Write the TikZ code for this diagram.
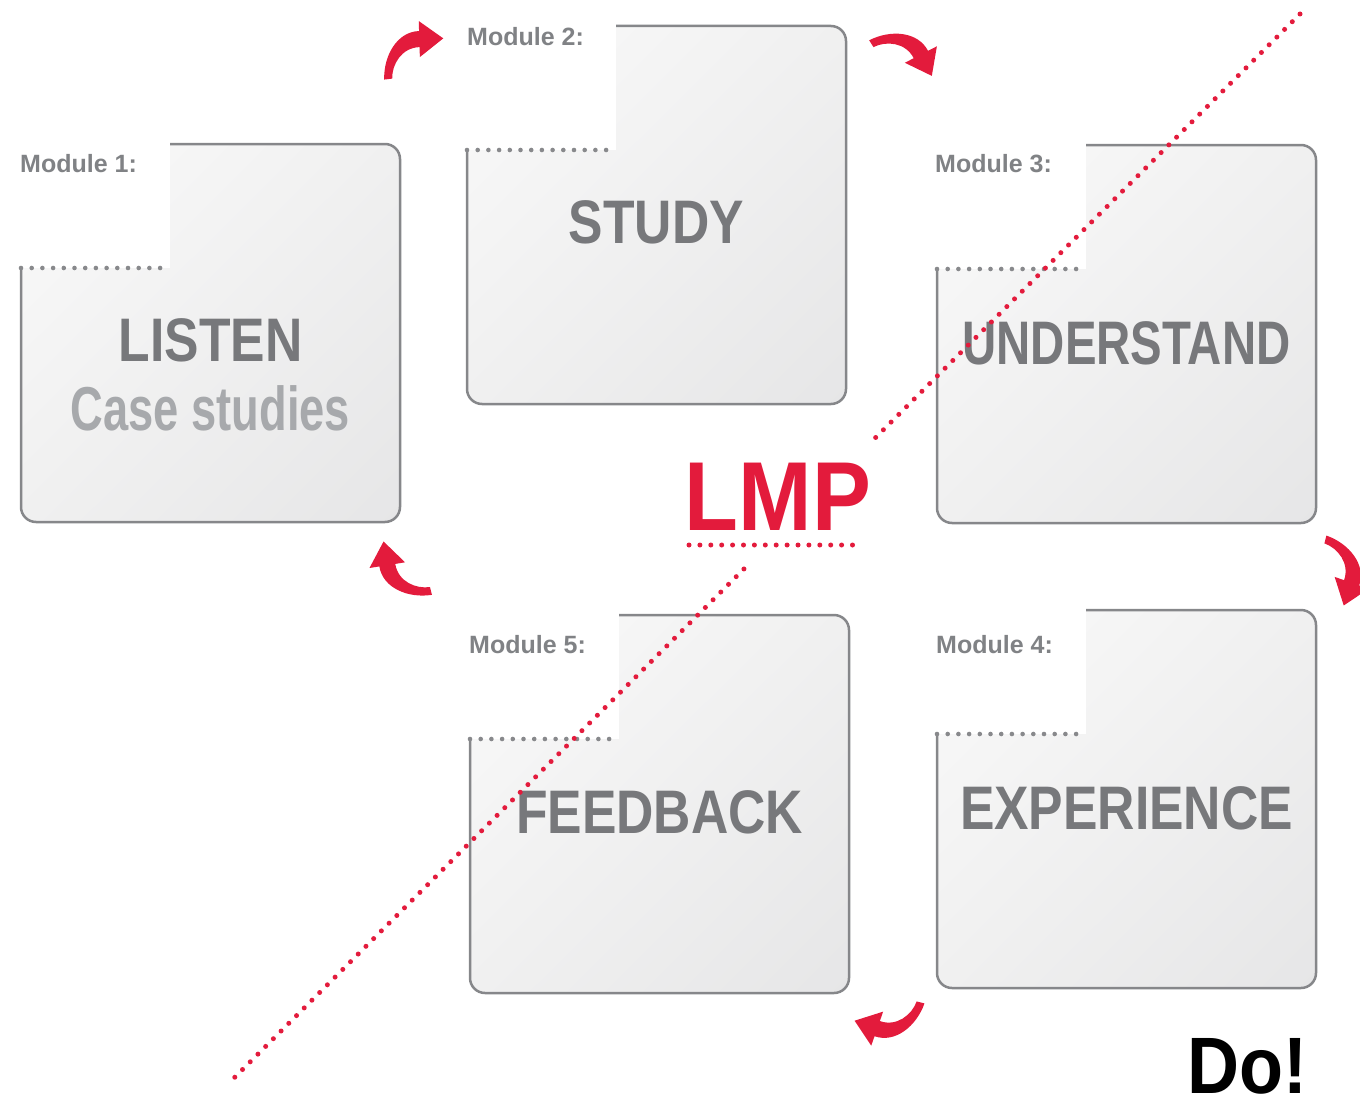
\documentclass[tikz,border=0pt]{standalone}
\usepackage{fontspec}
\setmainfont{Liberation Sans}
\newfontfamily\condfont{Liberation Sans}[FakeStretch=0.84]
\newfontfamily\narrfont{Liberation Sans}[FakeStretch=0.77]
\newfontfamily\subfont{Liberation Sans}[FakeStretch=0.73]
\newfontfamily\lmpfont{Liberation Sans}[FakeStretch=0.9]
\usetikzlibrary{positioning,shadings}

\definecolor{boxline}{HTML}{86878A}
\definecolor{tabgray}{HTML}{88898C}
\definecolor{boxlight}{HTML}{FAFAFA}
\definecolor{boxmid}{HTML}{F0F0F0}
\definecolor{boxdark}{HTML}{E6E6E7}
\definecolor{titlegray}{HTML}{77787B}
\definecolor{subgray}{HTML}{A7A9AC}
\definecolor{labelgray}{HTML}{808285}
\definecolor{lmpred}{HTML}{E31B3C}

\tikzstyle{modbox} = [rectangle, rounded corners=15pt, minimum width=379pt, minimum height=378pt, outer sep=0pt, draw=boxline, line width=2.5pt, shade, upper left=boxlight, upper right=boxmid, lower left=boxmid, lower right=boxdark]
\tikzstyle{tabdots} = [draw=tabgray, line width=4.6pt, line cap=round, dash pattern=on 0pt off 10.7pt]
\tikzstyle{reddots} = [draw=lmpred, line width=5pt, line cap=round, dash pattern=on 0pt off 10.9pt]
\tikzstyle{modlabel} = [anchor=west, inner sep=0pt, text=labelgray, font=\bfseries\fontsize{25}{30}\selectfont]
\tikzstyle{boxtitle} = [inner sep=0pt, text=titlegray, font=\condfont\bfseries\fontsize{61.5}{70}\selectfont]
\tikzstyle{boxwide} = [inner sep=0pt, text=titlegray, font=\narrfont\bfseries\fontsize{61.5}{70}\selectfont]
\tikzstyle{boxsub} = [inner sep=0pt, text=subgray, font=\subfont\bfseries\fontsize{62}{70}\selectfont]
\tikzstyle{lmptext} = [inner sep=0pt, text=lmpred, font=\lmpfont\bfseries\fontsize{98}{110}\selectfont]
\tikzstyle{dotext} = [inner sep=0pt, text=black, font=\lmpfont\bfseries\fontsize{80}{90}\selectfont]

\tikzset{bendarrow/.pic={
  \fill [lmpred] (-2,-2) .. controls (11.7,-21.7) and (36.9,-32.8) .. (54.9,-20.3) -- (60.6,-28.5) -- (70,0) -- (40.1,1.1) -- (45.7,-7.1) .. controls (30.9,-17.4) and (13,-9.5) .. (5,2) -- cycle;
}}

\begin{document}
\begin{tikzpicture}[x=1pt, y=-1pt]
\useasboundingbox (0,0) rectangle (1360,1108);

\node (mod1) [modbox] at (210.5,333) {};
\node (mod2) [modbox] at (656.5,215) {};
\node (mod3) [modbox] at (1126.5,334) {};
\node (mod4) [modbox] at (1126.5,799) {};
\node (mod5) [modbox] at (659.5,804) {};

\fill [white] ([xshift=-3pt,yshift=3pt]mod1.north west) rectangle ([xshift=149pt,yshift=-124pt]mod1.north west);
\fill [white] ([xshift=-3pt,yshift=3pt]mod2.north west) rectangle ([xshift=149pt,yshift=-124pt]mod2.north west);
\fill [white] ([xshift=-3pt,yshift=3pt]mod3.north west) rectangle ([xshift=149pt,yshift=-124pt]mod3.north west);
\fill [white] ([xshift=-3pt,yshift=3pt]mod4.north west) rectangle ([xshift=149pt,yshift=-124pt]mod4.north west);
\fill [white] ([xshift=-3pt,yshift=3pt]mod5.north west) rectangle ([xshift=149pt,yshift=-124pt]mod5.north west);

\draw [tabdots] ([yshift=-124pt]mod1.north west) -- ([xshift=149pt,yshift=-124pt]mod1.north west);
\draw [tabdots] ([yshift=-124pt]mod2.north west) -- ([xshift=149pt,yshift=-124pt]mod2.north west);
\draw [tabdots] ([yshift=-124pt]mod3.north west) -- ([xshift=149pt,yshift=-124pt]mod3.north west);
\draw [tabdots] ([yshift=-124pt]mod4.north west) -- ([xshift=149pt,yshift=-124pt]mod4.north west);
\draw [tabdots] ([yshift=-124pt]mod5.north west) -- ([xshift=149pt,yshift=-124pt]mod5.north west);

\node (lab1) [modlabel] at (20,164) {Module 1:};
\node (lab2) [modlabel] at (467,37) {Module 2:};
\node (lab3) [modlabel] at (935,164) {Module 3:};
\node (lab4) [modlabel] at (936,645) {Module 4:};
\node (lab5) [modlabel] at (469,645) {Module 5:};

\node (listen) [boxtitle] at ([yshift=-7pt]mod1.center) {LISTEN};
\node (cases) [boxsub] at ([yshift=-68pt]listen.center) {Case studies};
\node (study) [boxtitle] at ([yshift=-7pt]mod2.center) {STUDY};
\node (underst) [boxwide] at ([yshift=-9pt]mod3.center) {UNDERSTAND};
\node (exper) [boxtitle] at ([yshift=-9pt]mod4.center) {EXPERIENCE};
\node (feedb) [boxtitle] at ([yshift=-8pt]mod5.center) {FEEDBACK};

\coordinate (diagtop) at (1300,14);
\coordinate (diagbot) at (232,1080);
\node (lmphole) [circle, minimum size=175pt] at (806,507) {};
\draw [reddots] (diagtop) -- (lmphole);
\draw [reddots] (lmphole) -- (diagbot);

\node (lmp) [lmptext] at (778,497) {LMP};
\draw [reddots] ([xshift=-89pt,yshift=-48pt]lmp.center) -- ([xshift=78pt,yshift=-48pt]lmp.center);

\pic [rotate=36.5] at (387,80) {bendarrow};
\pic [rotate=-28] at (870,43) {bendarrow};
\pic [rotate=-74.5] at (1325,538) {bendarrow};
\pic [rotate=-164.5] at (922,1002) {bendarrow};
\pic [rotate=133.8] at (432,592) {bendarrow};

\node (do) [dotext] at (1247,1066) {Do!};

\end{tikzpicture}
\end{document}
